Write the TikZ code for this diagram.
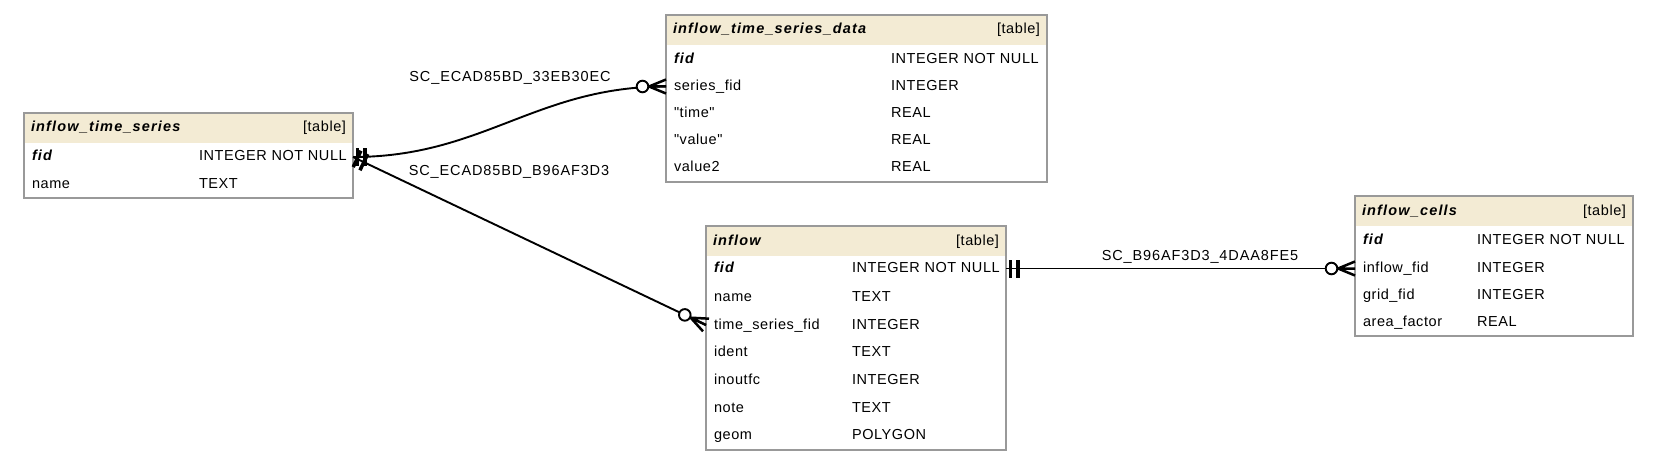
\documentclass[tikz,border=0pt]{standalone}
\usepackage{fontspec}
\setmainfont{Liberation Sans}
\newfontfamily\erfont[LetterSpace=4]{Liberation Sans}
\newfontfamily\erkeyfont[LetterSpace=8]{Liberation Sans}
\newfontfamily\erlabelfont[LetterSpace=6]{Liberation Sans}
\newcommand{\colkey}[1]{{\erkeyfont\bfseries\itshape #1}}
\definecolor{headfill}{RGB}{243,235,212}
\definecolor{framegray}{RGB}{153,153,153}

\begin{document}
\begin{tikzpicture}[x=1pt, y=1pt,
        tablebox/.style={draw=framegray, line width=1.6pt, anchor=north west, inner sep=0pt, outer sep=0pt},
        tablehead/.style={fill=headfill, anchor=north west, inner xsep=7pt, inner ysep=0pt, outer sep=0pt, minimum height=30pt, text height=11pt, text depth=3pt, font=\erfont\fontsize{14.5}{17}\selectfont},
        field/.style={anchor=west, inner xsep=8pt, inner ysep=0pt, outer sep=0pt, text height=11pt, text depth=3pt, font=\erfont\fontsize{14.5}{17}\selectfont},
        fklabel/.style={font=\erlabelfont\fontsize{14.5}{17}\selectfont, inner sep=0pt},
        conn/.style={line width=1.9pt, black},
        manyend/.pic={\draw[conn, line width=2.5pt] (-17,0) -- (0,7) (-17,0) -- (0,0) (-17,0) -- (0,-7);
                      \draw[conn, fill=white] (-23.5,0) circle[radius=5.8];},
        oneend/.pic={\draw[line width=3.5pt] (4.5,-9) -- (4.5,9) (12,-9) -- (12,9);}
    ]
    \useasboundingbox (0,0) rectangle (1656,-465);

    % inflow_time_series
    \node[tablehead, text width=315pt] (its-head) at (24,-113) {\colkey{inflow\_time\_series}\hfill[table]};
    \node[tablebox, minimum width=329pt, minimum height=85pt] (its) at (24,-113) {};
    \node[field] (its-fid) at (24,-157) {\makebox[167pt][l]{\colkey{fid}}INTEGER NOT NULL};
    \node[field] (its-name) at (24,-184.5) {\makebox[167pt][l]{name}TEXT};

    % inflow_time_series_data
    \node[tablehead, text width=367pt] (tsd-head) at (666,-15) {\colkey{inflow\_time\_series\_data}\hfill[table]};
    \node[tablebox, minimum width=381pt, minimum height=167pt] (tsd) at (666,-15) {};
    \node[field] (tsd-fid) at (666,-59.5) {\makebox[217pt][l]{\colkey{fid}}INTEGER NOT NULL};
    \node[field] (tsd-series) at (666,-86.5) {\makebox[217pt][l]{series\_fid}INTEGER};
    \node[field] (tsd-time) at (666,-113.5) {\makebox[217pt][l]{"time"}REAL};
    \node[field] (tsd-value) at (666,-140.5) {\makebox[217pt][l]{"value"}REAL};
    \node[field] (tsd-value2) at (666,-167.5) {\makebox[217pt][l]{value2}REAL};

    % inflow
    \node[tablehead, text width=286pt] (inflow-head) at (706,-226) {\colkey{inflow}\hfill[table]};
    \node[tablebox, minimum width=300pt, minimum height=224pt] (inflow) at (706,-226) {};
    \node[field] (inflow-fid) at (706,-268.5) {\makebox[138pt][l]{\colkey{fid}}INTEGER NOT NULL};
    \node[field] (inflow-name) at (706,-297.5) {\makebox[138pt][l]{name}TEXT};
    \node[field] (inflow-tsf) at (706,-325) {\makebox[138pt][l]{time\_series\_fid}INTEGER};
    \node[field] (inflow-ident) at (706,-352.5) {\makebox[138pt][l]{ident}TEXT};
    \node[field] (inflow-inoutfc) at (706,-380) {\makebox[138pt][l]{inoutfc}INTEGER};
    \node[field] (inflow-note) at (706,-408) {\makebox[138pt][l]{note}TEXT};
    \node[field] (inflow-geom) at (706,-435.5) {\makebox[138pt][l]{geom}POLYGON};

    % inflow_cells
    \node[tablehead, text width=264pt] (cells-head) at (1355,-196) {\colkey{inflow\_cells}\hfill[table]};
    \node[tablebox, minimum width=278pt, minimum height=140pt] (cells) at (1355,-196) {};
    \node[field] (cells-fid) at (1355,-240.5) {\makebox[114pt][l]{\colkey{fid}}INTEGER NOT NULL};
    \node[field] (cells-infid) at (1355,-268.5) {\makebox[114pt][l]{inflow\_fid}INTEGER};
    \node[field] (cells-grid) at (1355,-295) {\makebox[114pt][l]{grid\_fid}INTEGER};
    \node[field] (cells-area) at (1355,-322) {\makebox[114pt][l]{area\_factor}REAL};

    % relations
    \draw[conn] (its-fid -| its.east) .. controls +(130,0) and +(-130,0) .. (tsd-series -| tsd.west);
    \path (its-fid -| its.east) .. controls +(130,0) and +(-130,0) .. (tsd-series -| tsd.west)
        pic[pos=0, sloped] {oneend} pic[pos=1, sloped] {manyend};
    \node[fklabel] (fk-a) at (510,-78) {SC\_ECAD85BD\_33EB30EC};

    \draw[conn] (its-fid -| its.east) -- (inflow-tsf -| inflow.west);
    \path (its-fid -| its.east) -- (inflow-tsf -| inflow.west)
        pic[pos=0, sloped] {oneend} pic[pos=1, sloped] {manyend};
    \node[fklabel] (fk-b) at (509,-172) {SC\_ECAD85BD\_B96AF3D3};

    \draw[conn] (inflow-fid -| inflow.east) -- (cells-infid -| cells.west);
    \path (inflow-fid -| inflow.east) -- (cells-infid -| cells.west)
        pic[pos=0, sloped] {oneend} pic[pos=1, sloped] {manyend};
    \node[fklabel] (fk-c) at (1200,-257) {SC\_B96AF3D3\_4DAA8FE5};

\end{tikzpicture}
\end{document}
